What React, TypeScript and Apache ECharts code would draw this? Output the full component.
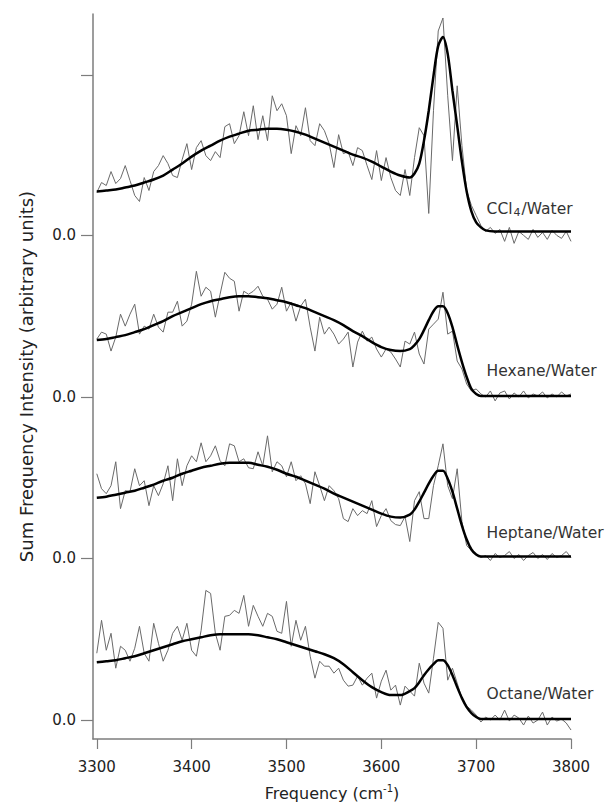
import React, { useEffect, useRef } from "react";
import * as echarts from "echarts";

// Frequency grid of the measured (noisy) spectra, cm^-1
const noiseFreq = [
  3300, 3305, 3310, 3315, 3320, 3325, 3330, 3335, 3340, 3345,
  3350, 3355, 3360, 3365, 3370, 3375, 3380, 3385, 3390, 3395,
  3400, 3405, 3410, 3415, 3420, 3425, 3430, 3435, 3440, 3445,
  3450, 3455, 3460, 3465, 3470, 3475, 3480, 3485, 3490, 3495,
  3500, 3505, 3510, 3515, 3520, 3525, 3530, 3535, 3540, 3545,
  3550, 3555, 3560, 3565, 3570, 3575, 3580, 3585, 3590, 3595,
  3600, 3605, 3610, 3615, 3620, 3625, 3630, 3635, 3640, 3645,
  3650, 3655, 3660, 3665, 3670, 3675, 3680, 3685, 3690, 3695,
  3700, 3705, 3710, 3715, 3720, 3725, 3730, 3735, 3740, 3745,
  3750, 3755, 3760, 3765, 3770, 3775, 3780, 3785, 3790, 3795,
  3800,
];

// Frequency grid of the fitted curves, cm^-1
const fitFreq = [
  3300, 3310, 3320, 3330, 3340, 3350, 3360, 3370, 3380, 3390,
  3400, 3410, 3420, 3430, 3440, 3450, 3460, 3470, 3480, 3490,
  3500, 3510, 3520, 3530, 3540, 3550, 3560, 3570, 3580, 3590,
  3600, 3610, 3620, 3630,
  3635, 3640, 3645, 3650, 3655, 3660, 3665, 3670, 3675, 3680,
  3685, 3690, 3695, 3700, 3705, 3710,
  3720, 3730, 3740, 3750, 3760, 3770, 3780, 3790, 3800,
];

// Measured SF intensities (arbitrary units)
const ccl4Data = [
  43, 53, 50, 64, 52, 57, 70, 55, 40, 34,
  58, 45, 64, 70, 80, 72, 60, 58, 76, 92,
  66, 88, 95, 80, 75, 84, 78, 109, 112, 92,
  100, 124, 100, 130, 96, 120, 95, 140, 125, 132,
  120, 82, 110, 100, 128, 95, 90, 112, 105, 92,
  68, 101, 82, 84, 70, 88, 85, 70, 56, 85,
  55, 78, 58, 45, 40, 66, 40, 78, 108, 100,
  22, 125, 205, 218, 140, 75, 150, 90, 45, 30,
  20, 10, 4, 8, 2, 6, -6, 8, -8, 4,
  0, -4, 6, -2, 3, -4, 5, 0, -3, 4,
  -6,
];
const hexaneData = [
  58, 65, 63, 46, 60, 83, 71, 83, 93, 63,
  71, 68, 83, 70, 65, 85, 85, 96, 71, 76,
  93, 126, 101, 110, 106, 80, 103, 125, 119, 116,
  86, 106, 103, 106, 111, 101, 98, 88, 93, 110,
  86, 95, 76, 91, 98, 70, 46, 80, 63, 70,
  63, 53, 58, 65, 30, 55, 66, 56, 60, 48,
  40, 48, 45, 38, 30, 56, 53, 65, 43, 33,
  68, 73, 78, 105, 63, 66, 36, 28, 13, 6,
  8, 3, 0, 6, -4, 4, 6, -2, 4, 0,
  6, -1, 3, 1, 5, -1, 3, 0, 5, 1,
  3,
];
const heptaneData = [
  85, 70, 65, 73, 97, 50, 68, 67, 90, 73,
  78, 53, 73, 63, 75, 93, 58, 100, 73, 93,
  103, 97, 116, 97, 103, 113, 98, 93, 115, 113,
  97, 100, 91, 90, 107, 93, 123, 87, 97, 93,
  82, 97, 78, 83, 75, 55, 87, 73, 58, 73,
  68, 60, 40, 37, 50, 43, 48, 45, 58, 32,
  43, 50, 38, 34, 33, 42, 17, 58, 67, 40,
  40, 73, 93, 115, 73, 60, 90, 37, 13, 8,
  4, 1, 3, -2, 5, 1, 3, 7, 0, 4,
  -2, 3, 6, 0, 4, -1, 5, 1, 3, 7,
  1,
];
const octaneData = [
  67, 100, 70, 87, 52, 74, 70, 59, 72, 94,
  67, 59, 97, 77, 59, 70, 87, 94, 80, 97,
  70, 64, 90, 130, 127, 87, 70, 104, 105, 110,
  107, 125, 94, 115, 104, 94, 107, 104, 89, 87,
  119, 74, 100, 80, 94, 64, 42, 59, 54, 54,
  47, 52, 40, 34, 35, 44, 35, 42, 47, 22,
  39, 50, 30, 35, 15, 34, 29, 24, 57, 37,
  27, 62, 98, 92, 40, 52, 37, 22, 14, 10,
  5, -2, 3, 0, 5, 0, 10, -1, 5, 2,
  -5, 4, -3, 0, 8, -5, 3, -1, 1, -3,
  -10,
];

// Fitted curves (arbitrary units)
const ccl4Fit = [
  44, 45, 46, 48, 50, 53, 56, 60, 66, 72,
  79, 85, 90, 95, 99, 102, 105, 106, 107, 107,
  106, 104, 101, 97, 93, 89, 85, 81, 78, 74,
  69, 64, 60, 58,
  62, 72, 95, 125, 160, 190, 199, 182, 145, 110,
  74, 44, 24, 13, 8, 5,
  4, 4, 4, 4, 4, 4, 4, 4, 4,
];
const hexaneFit = [
  57, 58, 60, 62, 65, 68, 72, 76, 81, 85,
  89, 93, 96, 98, 100, 101, 101, 100, 99, 97,
  95, 92, 89, 85, 81, 77, 72, 66, 61, 55,
  50, 47, 46, 48,
  52, 58, 67, 77, 86, 91, 91, 84, 70, 52,
  35, 20, 8, 3, 1, 1,
  1, 1, 1, 1, 1, 1, 1, 1, 1,
];
const heptaneFit = [
  61, 62, 64, 66, 68, 71, 74, 78, 81, 85,
  88, 91, 93, 95, 96, 96, 96, 94, 92, 89,
  85, 82, 78, 74, 70, 65, 61, 57, 53, 49,
  45, 42, 41, 44,
  49, 57, 66, 75, 83, 88, 88, 80, 67, 50,
  33, 19, 9, 4, 2, 2,
  2, 2, 2, 2, 2, 2, 2, 2, 2,
];
const octaneFit = [
  58, 59, 60, 62, 64, 67, 70, 73, 76, 79,
  81, 83, 85, 86, 86, 86, 86, 85, 83, 81,
  78, 75, 72, 69, 66, 62, 56, 48, 40, 33,
  28, 25, 25, 29,
  32, 38, 45, 51, 56, 60, 60, 55, 45, 33,
  22, 13, 7, 3, 1, 1,
  1, 1, 1, 1, 1, 1, 1, 1, 1,
];

const traceNames = ["CCl4/Water", "Hexane/Water", "Heptane/Water", "Octane/Water"];
const traceLabels = [
  "{a|CCl}{b|4}{a|/Water}",
  "{a|Hexane/Water}",
  "{a|Heptane/Water}",
  "{a|Octane/Water}",
];
const traceOffsets = [486, 324, 162, 0];
const traceData = [ccl4Data, hexaneData, heptaneData, octaneData];
const traceFits = [ccl4Fit, hexaneFit, heptaneFit, octaneFit];
const labelFreq = 3711;
const labelHeight = 26;

const xTicks = [3300, 3400, 3500, 3600, 3700, 3800];
const yTicks = [0, 162, 324, 486, 647];
const yLabelTicks = [0, 162, 324, 486];

const FONT = "DejaVu Sans";
const AXIS_COLOR = "#7d7d7d";
const TEXT_COLOR = "#222";

export default function App() {
  const ref = useRef<HTMLDivElement>(null);

  useEffect(() => {
    if (!ref.current) return;
    const chart = echarts.init(ref.current, undefined, { renderer: "svg" });

    const series: any[] = [];
    traceNames.forEach((name, i) => {
      const off = traceOffsets[i];
      series.push({
        name: name + " data",
        type: "line",
        data: noiseFreq.map((f, k) => [f, traceData[i][k] + off]),
        showSymbol: false,
        symbol: "none",
        lineStyle: { color: "#6a6a6a", width: 1 },
        z: 2,
        silent: true,
      });
    });
    traceNames.forEach((name, i) => {
      const off = traceOffsets[i];
      series.push({
        name: name + " fit",
        type: "line",
        data: fitFreq.map((f, k) => [f, traceFits[i][k] + off]),
        showSymbol: false,
        symbol: "none",
        smooth: 0.3,
        lineStyle: { color: "#000", width: 2.5 },
        z: 3,
        silent: true,
        markPoint: {
          symbol: "circle",
          symbolSize: 0,
          silent: true,
          label: {
            show: true,
            position: "right",
            distance: 0,
            formatter: traceLabels[i],
            rich: {
              a: { fontFamily: FONT, fontSize: 15.5, color: "#333", lineHeight: 18 },
              b: { fontFamily: FONT, fontSize: 11, color: "#333", lineHeight: 10, verticalAlign: "bottom", padding: [0, 1, 0, 1] },
            },
          },
          data: [{ coord: [labelFreq, labelHeight + off] }],
        },
      });
    });

    chart.setOption({
      animation: false,
      backgroundColor: "#fff",
      grid: { left: 93, right: 42, top: 14, bottom: 65, containLabel: false },
      xAxis: {
        type: "value",
        min: 3296,
        max: 3800,
        name: "{a|Frequency (cm}{s|-1}{a|)}",
        nameLocation: "middle",
        nameGap: 44,
        nameTextStyle: {
          rich: {
            a: { fontFamily: FONT, fontSize: 16, color: TEXT_COLOR, lineHeight: 20 },
            s: { fontFamily: FONT, fontSize: 10, color: TEXT_COLOR, lineHeight: 12, verticalAlign: "top" },
          },
        },
        axisLine: { show: true, onZero: false, lineStyle: { color: AXIS_COLOR, width: 1.5 } },
        axisTick: { show: true, length: 10, customValues: xTicks, lineStyle: { color: AXIS_COLOR, width: 1.2 } },
        axisLabel: {
          customValues: xTicks,
          formatter: (v: number) => String(Math.round(v)),
          margin: 20,
          fontFamily: FONT,
          fontSize: 15,
          color: TEXT_COLOR,
        },
        splitLine: { show: false },
      },
      yAxis: {
        type: "value",
        min: -19,
        max: 708,
        name: "Sum Frequency Intensity (arbitrary units)",
        nameLocation: "middle",
        nameGap: 58,
        nameTextStyle: { fontFamily: FONT, fontSize: 18, color: TEXT_COLOR },
        axisLine: { show: true, lineStyle: { color: AXIS_COLOR, width: 1.5 } },
        axisTick: { show: true, length: 12, customValues: yTicks, lineStyle: { color: AXIS_COLOR, width: 1.2 } },
        axisLabel: {
          customValues: yLabelTicks,
          formatter: () => "0.0",
          margin: 17,
          fontFamily: FONT,
          fontSize: 15,
          color: TEXT_COLOR,
        },
        splitLine: { show: false },
      },
      series,
    });

    return () => chart.dispose();
  }, []);

  return (
    <div
      ref={ref}
      style={{ position: "fixed", left: 0, top: 0, width: 613, height: 806, background: "#fff" }}
    />
  );
}
